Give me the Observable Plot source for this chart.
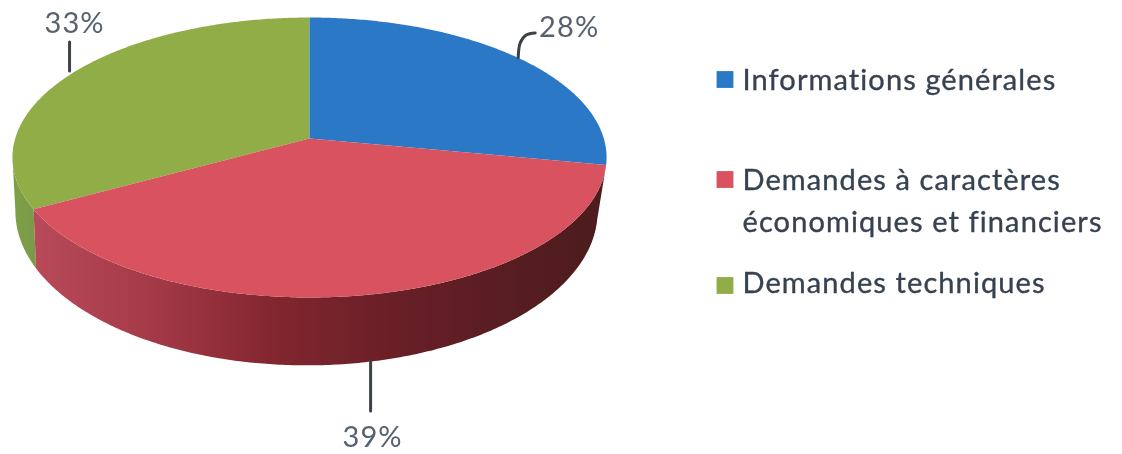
<!DOCTYPE html>
<html lang="fr">
<head>
<meta charset="utf-8">
<script src="https://cdn.jsdelivr.net/npm/d3@7"></script>
<script src="https://cdn.jsdelivr.net/npm/@observablehq/plot@0.6"></script>
<style>
html,body{margin:0;padding:0;background:#fff;overflow:hidden}
#chart svg{display:block;filter:blur(0.6px)}
#chart svg text{letter-spacing:1.1px}
</style>
</head>
<body>
<div id="chart"></div>
<script>
// Data
const categories = ["Informations générales", "Demandes à caractères\néconomiques et financiers", "Demandes techniques"];
const shares = [28, 39, 33];
const percentLabels = ["28%", "39%", "33%"];
const topColors = ["#2b78c6", "#d8525f", "#91ad47"];
const sideFills = [null, "url(#sideRed)", "url(#sideGreen)"];

const W = 1122, H = 454;
// Perspective camera for the tilted disc
const cx = 309, apexY = 138, a = 294.3, b = 137.4, k = 0.1357;
const base = {sx: 0.98, sy: 1.1, apex: 190, shift: -3};

function rim(theta, lower) {
  const u = Math.sin(theta), v = Math.cos(theta), w = 1 + k * v;
  const X = a * u / w, Y = -b * v / w;
  return lower ? {x: cx + base.shift + base.sx * X, y: base.apex + base.sy * Y}
               : {x: cx + X, y: apexY + Y};
}
function arc(t0, t1, lower) {
  const n = Math.max(2, Math.ceil(Math.abs(t1 - t0) / 0.01));
  return d3.range(n + 1).map(i => rim(t0 + (t1 - t0) * i / n, lower));
}

const total = d3.sum(shares);
const cum = d3.cumsum(shares);
const slices = shares.map((s, i) => ({
  i,
  t0: ((cum[i] - s) / total) * 2 * Math.PI,
  t1: (cum[i] / total) * 2 * Math.PI,
  mid: ((cum[i] - s / 2) / total) * 2 * Math.PI
}));

const tops = slices.map(s => [{x: cx, y: apexY}, ...arc(s.t0, s.t1, false)]);

// Walls of the visible rim: red across the front, green on the far left
const sideRed = [...arc(slices[1].t0, slices[1].t1, false), ...arc(slices[1].t1, slices[1].t0, true)];
const leftmost = 1.5 * Math.PI - k;
const sideGreen = [...arc(slices[2].t0, leftmost, false), ...arc(leftmost, slices[2].t0, true)];

// Leaders start on the rim at each slice's mid-angle
const p28 = rim(slices[0].mid, false);
const p39 = rim(slices[1].mid, true);
const p33 = rim(slices[2].mid, false);
const leader28 = [p28, {x: p28.x + 2, y: p28.y - 15}, {x: p28.x + 8, y: p28.y - 23}, {x: p28.x + 17, y: p28.y - 25}];
const leader39 = [{x: p39.x + 12, y: p39.y - 2}, {x: p39.x + 12, y: p39.y + 48}];
const leader33 = [{x: p33.x - 3, y: p33.y - 2}, {x: p33.x - 3, y: p33.y - 31}];

const pctLabels = [
  {t: percentLabels[0], x: p28.x + 51, y: p28.y - 30},
  {t: percentLabels[1], x: p39.x + 14, y: p39.y + 75},
  {t: percentLabels[2], x: p33.x + 2, y: p33.y - 49}
];

const legendY = [76, 197, 279];
const legendSquareY = [79, 179, 285];
const legendRows = categories.map((c, i) => ({c, i, y: legendY[i], sy: legendSquareY[i]}));

const defs = () => {
  const d = d3.create("svg:defs");
  const grad = (id, stops) => {
    const g = d.append("linearGradient").attr("id", id).attr("x1", 0).attr("x2", 1).attr("y1", 0).attr("y2", 0);
    stops.forEach(([o, c]) => g.append("stop").attr("offset", o).attr("stop-color", c));
  };
  grad("sideRed", [[0, "#b84a5a"], [0.2, "#a53a48"], [0.42, "#82262f"], [0.62, "#6a1f27"], [0.85, "#561d20"], [1, "#4c1c1c"]]);
  grad("sideGreen", [[0, "#7f9f47"], [1, "#799a48"]]);
  return d.node();
};

const fillShape = (pts, fill) => Plot.line(pts, {x: "x", y: "y", fill, stroke: "none", curve: "linear"});

const plot = Plot.plot({
  width: W, height: H, margin: 0,
  x: {domain: [0, W], range: [0, W], axis: null},
  y: {domain: [0, H], range: [0, H], axis: null},
  marks: [
    defs,
    fillShape(sideGreen, sideFills[2]),
    fillShape(sideRed, sideFills[1]),
    fillShape(tops[2], topColors[2]),
    fillShape(tops[0], topColors[0]),
    fillShape(tops[1], topColors[1]),
    Plot.line(leader28, {x: "x", y: "y", stroke: "#3d4248", strokeWidth: 3, curve: "catmull-rom"}),
    Plot.line(leader39, {x: "x", y: "y", stroke: "#3d4248", strokeWidth: 3}),
    Plot.line(leader33, {x: "x", y: "y", stroke: "#3d4248", strokeWidth: 3}),
    Plot.text(pctLabels, {x: "x", y: "y", text: "t", fontSize: 29, fontFamily: "Lato", fill: "#566270", textAnchor: "middle"}),
    Plot.dot(legendRows, {x: () => 724.5, y: "sy", symbol: "square", r: 9.5, fill: (d) => topColors[d.i], stroke: "none"}),
    Plot.text(legendRows, {x: () => 742, y: "y", text: "c", fontSize: 29, lineHeight: 1.45, fontFamily: "Lato", fill: "#364250", stroke: "#364250", strokeWidth: 0.35, textAnchor: "start"})
  ]
});
document.getElementById("chart").append(plot);
</script>
</body>
</html>
